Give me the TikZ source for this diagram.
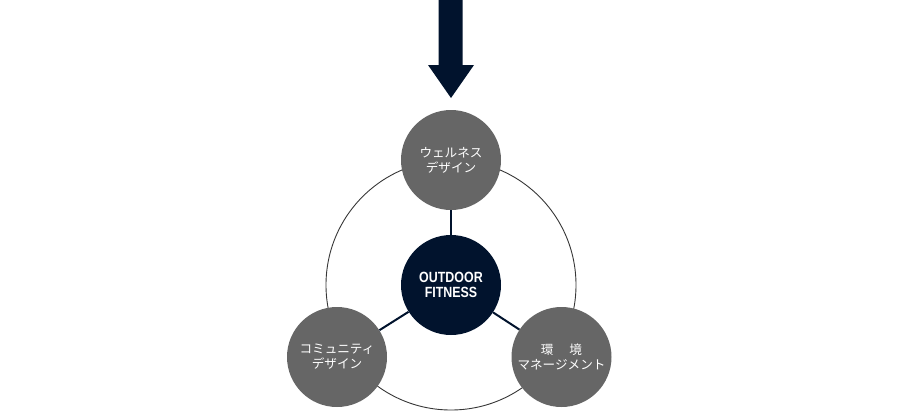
\documentclass[tikz,border=0pt]{standalone}
\usepackage{fontspec}
\setmainfont{Noto Sans CJK JP}
\newfontfamily\hubfont{Liberation Sans}[FakeStretch=0.84]
\usetikzlibrary{positioning,calc}
\definecolor{hubnavy}{RGB}{1,19,45}
\definecolor{themegrey}{RGB}{102,102,102}
\definecolor{ringgrey}{RGB}{55,55,55}
\tikzset{
  hub/.style={circle,fill=hubnavy,minimum size=100pt,inner sep=0pt,text=white,
              align=center,font=\hubfont\bfseries\fontsize{14.8}{15.2}\selectfont},
  theme/.style={circle,fill=themegrey,minimum size=100pt,inner sep=0pt,text=white,
                align=center,font=\fontsize{12.6}{15.2}\selectfont},
  spoke/.style={draw=hubnavy,line width=2pt},
  ring/.style={draw=ringgrey,line width=0.9pt},
}

\begin{document}
\begin{tikzpicture}[x=1pt,y=-1pt]
  \useasboundingbox (0,0) rectangle (900,410);
  \coordinate (ringc) at (451,285);
  \draw[ring] (ringc) circle[radius=125];
  \node[hub] (core) at (ringc) {OUTDOOR\\FITNESS};
  \node[theme] (wellness) at (451,160) {ウェルネス\\デザイン};
  \node[theme] (community) at (337,357) {コミュニティ\\デザイン};
  \node[theme] (environment) at (561.5,357) {環\hspace{16pt}境\\マネージメント};
  \draw[spoke] (core) -- (wellness);
  \draw[spoke] (core) -- (community);
  \draw[spoke] (core) -- (environment);
  % arrow into the top theme
  \coordinate (tip) at (451,98);
  \fill[hubnavy] (438.5,0) -- (462.5,0) -- (462.5,65) -- (474,65) -- (tip)
    -- (428,65) -- (438.5,65) -- cycle;
\end{tikzpicture}
\end{document}
